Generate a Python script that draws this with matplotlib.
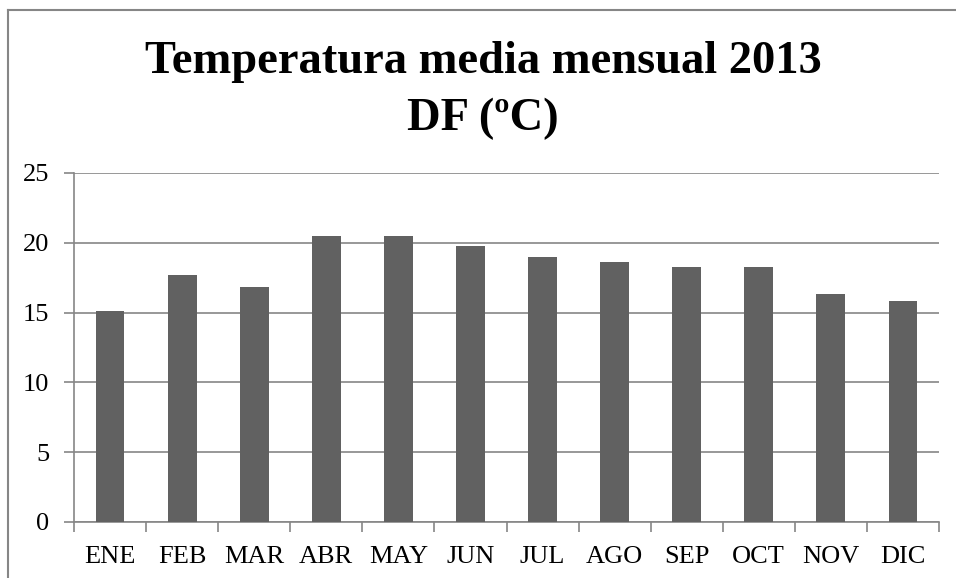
import numpy as np
import matplotlib.pyplot as plt
from matplotlib.lines import Line2D

# datos
meses = ["ENE", "FEB", "MAR", "ABR", "MAY", "JUN",
         "JUL", "AGO", "SEP", "OCT", "NOV", "DIC"]
temperaturas = [15.1, 17.7, 16.8, 20.5, 20.5, 19.8,
                19.0, 18.6, 18.3, 18.3, 16.3, 15.8]
y_ticks = [0, 5, 10, 15, 20, 25]

plt.rcParams['font.family'] = ['Liberation Serif', 'DejaVu Serif']

GRIS = '#868686'

fig = plt.figure(figsize=(9.56, 5.78), dpi=100)
ax = fig.add_axes([74 / 956, 1 - 522 / 578, 865 / 956, 349 / 578])

x = np.arange(len(meses))
ax.bar(x, temperaturas, width=0.4, color='#616161', zorder=3)

ax.set_xlim(-0.5, len(meses) - 0.5)
ax.set_ylim(0, 25)
ax.set_yticks(y_ticks)
ax.set_yticklabels([str(v) for v in y_ticks], fontsize=19)
ax.yaxis.grid(True, color=GRIS, linewidth=1.2, zorder=0)

# marcas del eje x entre categorias
ax.set_xticks(np.arange(-0.5, len(meses), 1.0))
ax.set_xticklabels([])
ax.set_xticks(x, minor=True)
ax.set_xticklabels(meses, minor=True, fontsize=19)
ax.tick_params(axis='x', which='minor', length=0, pad=17)
ax.tick_params(axis='x', which='major', length=7, color=GRIS, width=1.2)
ax.tick_params(axis='y', length=7, color=GRIS, width=1.2, pad=11)

for lado in ['top', 'right']:
    ax.spines[lado].set_visible(False)
for lado in ['left', 'bottom']:
    ax.spines[lado].set_color(GRIS)
    ax.spines[lado].set_linewidth(1.2)

# titulo
fig.text(483 / 956, 1 - 73 / 578, "Temperatura media mensual 2013",
         ha='center', va='baseline', fontsize=33.5, fontweight='bold')
fig.text(483 / 956, 1 - 130 / 578, "DF (ºC)",
         ha='center', va='baseline', fontsize=33.5, fontweight='bold')

# marco exterior del grafico
fig.add_artist(Line2D([7.5 / 956, 1.0], [1 - 9.5 / 578, 1 - 9.5 / 578],
                      transform=fig.transFigure, color=GRIS, linewidth=1.5))
fig.add_artist(Line2D([7.5 / 956, 7.5 / 956], [0, 1 - 9.5 / 578],
                      transform=fig.transFigure, color=GRIS, linewidth=1.5))

fig.savefig("out.png", dpi=100)
